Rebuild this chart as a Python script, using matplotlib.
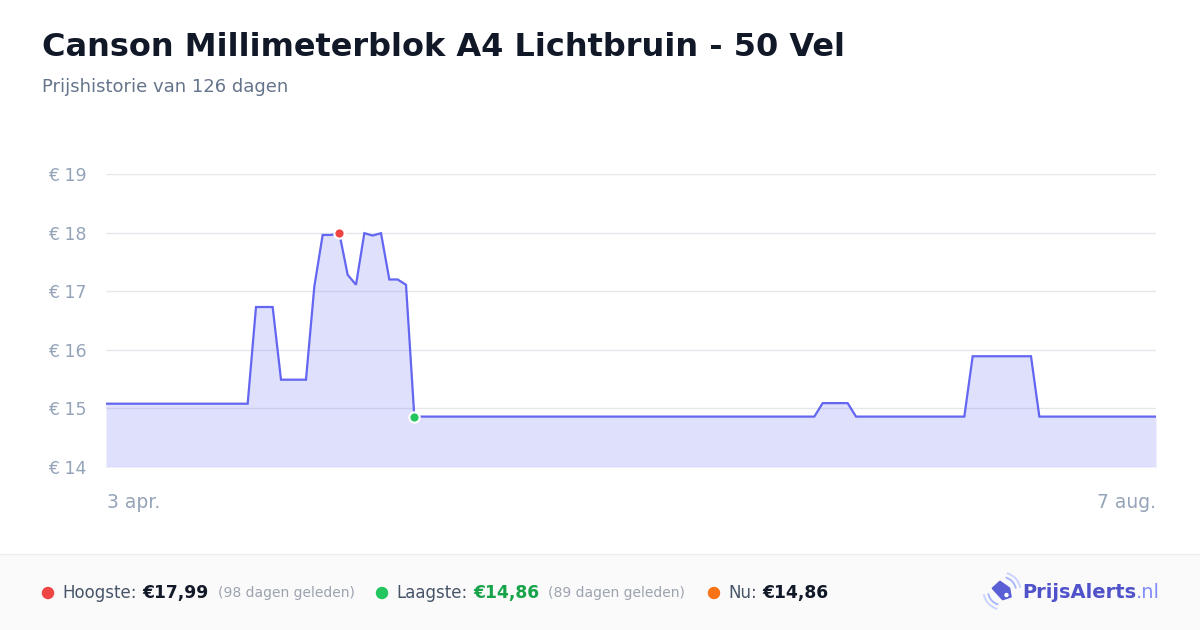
import numpy as np
import matplotlib.pyplot as plt
from matplotlib.patches import Rectangle, Circle, Polygon, Arc

# prijsdata (dag-index vanaf 3 apr., prijs in euro) - knikpunten van de lijn
dagen = [0, 17, 18, 20, 21, 24, 25, 26, 27, 28, 29, 30, 31, 32, 33, 34, 35, 36, 37,
         85, 86, 89, 90, 103, 104, 111, 112, 126]
prijzen = [15.08, 15.08, 16.73, 16.73, 15.49, 15.49, 17.08, 17.96, 17.96, 17.99,
           17.28, 17.11, 17.99, 17.95, 17.99, 17.20, 17.20, 17.11, 14.86,
           14.86, 15.09, 15.09, 14.86, 14.86, 15.89, 15.89, 14.86, 14.86]
y_ticks = [14, 15, 16, 17, 18, 19]
x_labels = ["3 apr.", "7 aug."]
dag_hoog = 28
dag_laag = 37

titel = "Canson Millimeterblok A4 Lichtbruin - 50 Vel"
subtitel = "Prijshistorie van 126 dagen"

W, H = 1200, 630
fig = plt.figure(figsize=(W / 100, H / 100), dpi=100)
fig.patch.set_facecolor("white")

# overlay in pixelcoordinaten voor footer en titels
ov = fig.add_axes([0, 0, 1, 1], zorder=0)
ov.set_xlim(0, W)
ov.set_ylim(H, 0)
ov.axis("off")

# footer achtergrond
ov.add_patch(Rectangle((0, 554), W, 76, facecolor="#fafafa", edgecolor="none"))
ov.plot([0, W], [554, 554], color="#eeeeee", lw=1)

ov.text(42, 47, titel, fontsize=23, fontweight="bold", color="#111827", va="center")
ov.text(42, 87, subtitel, fontsize=13, color="#64748b", va="center")

# grafiek
x0, x1, ytop, ybot = 106, 1156, 174, 467
ax = fig.add_axes([x0 / W, (H - ybot) / H, (x1 - x0) / W, (ybot - ytop) / H], zorder=1)
ax.set_facecolor("none")
ax.set_xlim(0, 126)
ax.set_ylim(14, 19)
ax.fill_between(dagen, prijzen, 14, color="#6366f1", alpha=0.2, lw=0)
ax.plot(dagen, prijzen, color="#6366f1", lw=1.6, solid_joinstyle="miter")
i_h = dagen.index(dag_hoog)
i_l = dagen.index(dag_laag)
ax.scatter([dagen[i_h]], [prijzen[i_h]], s=55, color="#ef4444", edgecolor="white", lw=1.5, zorder=5, clip_on=False)
ax.scatter([dagen[i_l]], [prijzen[i_l]], s=55, color="#22c55e", edgecolor="white", lw=1.5, zorder=5, clip_on=False)

ax.set_yticks(y_ticks)
ax.set_yticklabels([f"€ {v}" for v in y_ticks])
ax.tick_params(axis="y", length=0, pad=14, labelsize=12.5, labelcolor="#94a3b8")
ax.set_xticks([])
ax.grid(axis="y", color="#e5e7eb", lw=1)
ax.set_axisbelow(True)
for s in ax.spines.values():
    s.set_visible(False)

ov.text(107, 503, x_labels[0], fontsize=13.5, color="#94a3b8", va="center", ha="left")
ov.text(1156, 503, x_labels[1], fontsize=13.5, color="#94a3b8", va="center", ha="right")

# footer items
r = fig.canvas.get_renderer()
yf = 593

def put(x, txt, gap, **kw):
    t = ov.text(x, yf, txt, va="center", ha="left", **kw)
    bb = t.get_window_extent(r)
    return bb.x1 + gap

def item(x, kleur, label, waarde, waarde_kleur, extra=None):
    ov.add_patch(Circle((x, yf), 5.5, color=kleur))
    x = put(x + 14, label, 6, fontsize=12, color="#475569")
    x = put(x, waarde, 9, fontsize=12.3, fontweight="bold", color=waarde_kleur)
    if extra:
        x = put(x, extra, 0, fontsize=10, color="#9ca3af")
    return x

item(48, "#ef4444", "Hoogste:", "€17,99", "#111827", "(98 dagen geleden)")
item(382, "#22c55e", "Laagste:", "€14,86", "#16a34a", "(89 dagen geleden)")
item(714, "#f97316", "Nu:", "€14,86", "#111827")

# logo
tag = np.array([[992.7, 588.3], [1000, 581.7], [1009.3, 588.3], [1010.7, 596.7], [1002.7, 599.3]])
ov.add_patch(Polygon(tag, closed=True, color="#5b5fd6", joinstyle="round", lw=1.5))
ov.add_patch(Circle((1006.5, 595), 1.5, color="white"))
cx, cy = 1002, 591
for d, c in [(28, "#a5b4fc"), (37, "#c7d2fe")]:
    ov.add_patch(Arc((cx, cy), d, d, theta1=-75, theta2=-10, color=c, lw=1.3))
    ov.add_patch(Arc((cx, cy), d, d, theta1=105, theta2=170, color=c, lw=1.3))
xl = put(1022, "PrijsAlerts", 0, fontsize=14, fontweight="bold", color="#4f52c9")
put(xl, ".nl", 0, fontsize=14, color="#818cf8")

fig.savefig("out.png", dpi=100)
